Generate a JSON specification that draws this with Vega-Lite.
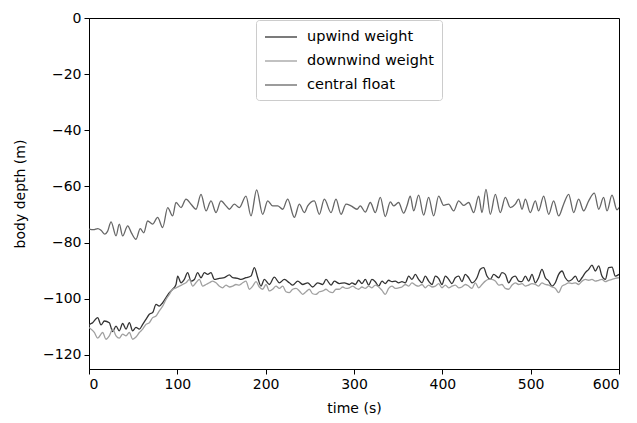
{
  "$schema": "https://vega.github.io/schema/vega-lite/v6.json",
  "width": 530,
  "height": 351,
  "autosize": {"type": "none"},
  "padding": {"left": 89, "top": 18, "right": 18, "bottom": 54},
  "background": "white",
  "config": {
    "view": {"stroke": "black", "strokeWidth": 1},
    "font": "DejaVu Sans",
    "axis": {
      "grid": false, "domainColor": "black", "tickColor": "black", "labelColor": "black", "titleColor": "black",
      "labelFontSize": 14, "titleFontSize": 14, "titleFontWeight": "normal", "tickSize": 5,
      "labelFont": "DejaVu Sans", "titleFont": "DejaVu Sans", "labelPadding": 3, "domainWidth": 1, "tickWidth": 1
    }
  },
  "datasets": {
    "upwind": [
      {"t":0,"d":-110},{"t":0.4,"d":-109.3},{"t":4.1,"d":-108.5},{"t":9.8,"d":-106.7},{"t":13.6,"d":-109.3},{"t":17.4,"d":-107.9},{"t":23,"d":-108.5},{"t":26.8,"d":-111.7},{"t":30.6,"d":-109.7},{"t":34.3,"d":-111.4},{"t":38.1,"d":-108.8},{"t":41.9,"d":-110.8},{"t":45.7,"d":-108.5},{"t":49.4,"d":-111.4},{"t":53.2,"d":-110.2},{"t":57,"d":-110.8},{"t":60.8,"d":-109.1},{"t":64.5,"d":-107.3},{"t":68.3,"d":-105.5},{"t":72.1,"d":-104.9},{"t":75.9,"d":-102.0},{"t":79.6,"d":-102.6},{"t":83.4,"d":-101.4},{"t":87.2,"d":-99.6},{"t":91,"d":-97.8},{"t":94.7,"d":-96.6},{"t":98.5,"d":-94.9},{"t":100.4,"d":-91.9},{"t":104.2,"d":-94.3},{"t":107.9,"d":-93.1},{"t":111.7,"d":-90.7},{"t":115.5,"d":-93.7},{"t":119.3,"d":-93.1},{"t":123,"d":-90.7},{"t":126.8,"d":-92.5},{"t":130.6,"d":-90.7},{"t":134.4,"d":-91.3},{"t":138.1,"d":-90.7},{"t":141.9,"d":-93.1},{"t":147.6,"d":-92.7},{"t":153.2,"d":-92.5},{"t":158.9,"d":-91.5},{"t":162.7,"d":-92.5},{"t":168.3,"d":-92.7},{"t":172.1,"d":-93.1},{"t":177.7,"d":-92.5},{"t":183.4,"d":-91.9},{"t":187.2,"d":-88.9},{"t":191,"d":-92.5},{"t":194.7,"d":-95.5},{"t":198.5,"d":-93.1},{"t":204.2,"d":-94.9},{"t":209.8,"d":-92.3},{"t":215.5,"d":-94.3},{"t":221.2,"d":-93.1},{"t":226.8,"d":-94.3},{"t":230.6,"d":-95.1},{"t":236.3,"d":-93.7},{"t":241.9,"d":-94.9},{"t":247.6,"d":-94.3},{"t":253.2,"d":-95.8},{"t":258.9,"d":-94.3},{"t":264.6,"d":-94.9},{"t":268.3,"d":-93.1},{"t":274,"d":-95.1},{"t":277.8,"d":-93.7},{"t":283.4,"d":-94.6},{"t":289.1,"d":-94.3},{"t":294.8,"d":-94.9},{"t":297.7,"d":-94.3},
      {"t":301.5,"d":-94.9},{"t":305.2,"d":-93.4},{"t":309,"d":-94.6},{"t":312.8,"d":-93.1},{"t":316.6,"d":-95.1},{"t":320.3,"d":-93.1},{"t":324.1,"d":-93.9},{"t":327.9,"d":-95.5},{"t":331.7,"d":-93.7},{"t":335.4,"d":-94.6},{"t":339.2,"d":-93.4},{"t":343,"d":-93.9},{"t":346.8,"d":-93.7},{"t":350.5,"d":-94.3},{"t":354.3,"d":-93.9},{"t":358.1,"d":-94.3},{"t":361.9,"d":-91.9},{"t":365.6,"d":-93.1},{"t":369.4,"d":-91.3},{"t":373.2,"d":-93.1},{"t":377,"d":-94.3},{"t":380.7,"d":-91.9},{"t":384.5,"d":-93.7},{"t":388.3,"d":-94.9},{"t":392.1,"d":-91.9},{"t":395.8,"d":-92.7},{"t":399.6,"d":-94.9},{"t":403.4,"d":-91.9},{"t":407.2,"d":-93.1},{"t":410.9,"d":-94.6},{"t":414.7,"d":-92.5},{"t":418.5,"d":-91.9},{"t":422.2,"d":-93.9},{"t":426,"d":-91.3},{"t":429.8,"d":-92.5},{"t":433.6,"d":-94.3},{"t":439.2,"d":-92.5},{"t":443,"d":-89.5},{"t":446.8,"d":-88.9},{"t":450.5,"d":-91.9},{"t":454.3,"d":-93.1},{"t":458.1,"d":-91.3},{"t":463.8,"d":-92.5},{"t":467.5,"d":-90.7},{"t":471.3,"d":-91.3},{"t":475.1,"d":-94.3},{"t":478.9,"d":-92.5},{"t":482.6,"d":-91.9},{"t":486.4,"d":-93.7},{"t":490.2,"d":-93.9},{"t":494,"d":-91.9},{"t":497.7,"d":-93.7},{"t":501.5,"d":-91.3},{"t":505.3,"d":-94.3},{"t":509,"d":-92.5},{"t":512.8,"d":-89.5},{"t":516.6,"d":-92.5},{"t":520.4,"d":-93.7},{"t":524.1,"d":-95.5},{"t":527.9,"d":-94.3},{"t":531.7,"d":-91.3},{"t":535.5,"d":-90.1},{"t":539.2,"d":-92.5},{"t":543,"d":-93.7},{"t":546.8,"d":-93.1},{"t":550.6,"d":-91.9},{"t":554.3,"d":-93.9},{"t":558.1,"d":-92.5},{"t":561.9,"d":-90.7},{"t":565.7,"d":-89.5},{"t":569.4,"d":-88.0},{"t":573.2,"d":-90.1},{"t":577,"d":-88.3},{"t":580.7,"d":-91.9},{"t":584.5,"d":-93.1},{"t":588.3,"d":-88.9},{"t":592.1,"d":-88.7},{"t":595.8,"d":-91.9},{"t":600,"d":-91.3}
    ],
    "downwind": [
      {"t":0,"d":-110.2},{"t":6,"d":-112.0},{"t":9.8,"d":-114.0},{"t":15.5,"d":-112.0},{"t":19.2,"d":-114.4},{"t":23,"d":-113.2},{"t":26.8,"d":-110.8},{"t":30.6,"d":-113.2},{"t":34.3,"d":-114.0},{"t":38.1,"d":-112.6},{"t":41.9,"d":-113.2},{"t":45.7,"d":-112.0},{"t":49.4,"d":-114.4},{"t":53.2,"d":-113.6},{"t":57,"d":-112.0},{"t":60.8,"d":-110.8},{"t":64.5,"d":-109.1},{"t":68.3,"d":-108.5},{"t":72.1,"d":-106.7},{"t":75.9,"d":-106.1},{"t":79.6,"d":-104.3},{"t":83.4,"d":-102.6},{"t":87.2,"d":-100.2},{"t":91,"d":-98.4},{"t":94.7,"d":-96.6},{"t":98.5,"d":-96.1},{"t":102.3,"d":-95.5},{"t":106,"d":-94.9},{"t":109.8,"d":-94.3},{"t":113.6,"d":-93.1},{"t":117.4,"d":-95.5},{"t":121.1,"d":-94.3},{"t":124.9,"d":-93.1},{"t":128.7,"d":-95.5},{"t":132.5,"d":-94.9},{"t":136.2,"d":-94.3},{"t":140,"d":-93.7},{"t":143.8,"d":-94.3},{"t":147.6,"d":-95.5},{"t":151.3,"d":-96.1},{"t":155.1,"d":-95.1},{"t":158.9,"d":-95.8},{"t":162.7,"d":-95.5},{"t":166.4,"d":-94.9},{"t":170.2,"d":-95.1},{"t":174,"d":-94.3},{"t":177.7,"d":-93.7},{"t":181.5,"d":-96.6},{"t":185.3,"d":-95.5},{"t":189.1,"d":-93.9},{"t":192.8,"d":-95.8},{"t":196.6,"d":-96.6},{"t":200.4,"d":-94.9},{"t":204.2,"d":-97.2},{"t":207.9,"d":-96.6},{"t":211.7,"d":-95.5},{"t":215.5,"d":-96.3},{"t":219.3,"d":-95.5},{"t":223,"d":-97.5},{"t":226.8,"d":-97.8},{"t":230.6,"d":-96.6},{"t":234.4,"d":-96.3},{"t":238.1,"d":-97.2},{"t":241.9,"d":-98.4},{"t":245.7,"d":-97.5},{"t":249.4,"d":-96.6},{"t":253.2,"d":-98.2},{"t":257,"d":-98.4},{"t":260.8,"d":-97.5},{"t":264.6,"d":-97.2},{"t":268.3,"d":-96.6},{"t":272.1,"d":-97.5},{"t":275.9,"d":-97.8},{"t":279.6,"d":-96.6},{"t":283.4,"d":-96.6},{"t":287.2,"d":-95.8},{"t":291,"d":-96.3},{"t":294.8,"d":-96.1},{"t":298.5,"d":-95.5},
      {"t":301.5,"d":-96.1},{"t":305.2,"d":-96.6},{"t":309,"d":-95.8},{"t":312.8,"d":-96.3},{"t":316.6,"d":-95.5},{"t":320.3,"d":-96.1},{"t":324.1,"d":-95.1},{"t":327.9,"d":-95.8},{"t":331.7,"d":-97.0},{"t":335.4,"d":-98.4},{"t":339.2,"d":-96.3},{"t":343,"d":-95.5},{"t":346.8,"d":-96.3},{"t":350.5,"d":-96.1},{"t":354.3,"d":-95.8},{"t":358.1,"d":-94.9},{"t":361.9,"d":-95.5},{"t":365.6,"d":-94.3},{"t":369.4,"d":-95.1},{"t":373.2,"d":-95.5},{"t":377,"d":-94.9},{"t":380.7,"d":-96.1},{"t":384.5,"d":-95.1},{"t":388.3,"d":-95.8},{"t":392.1,"d":-95.5},{"t":395.8,"d":-94.6},{"t":399.6,"d":-96.1},{"t":403.4,"d":-95.1},{"t":407.2,"d":-96.1},{"t":410.9,"d":-95.5},{"t":414.7,"d":-95.1},{"t":418.5,"d":-96.1},{"t":422.2,"d":-95.8},{"t":426,"d":-94.9},{"t":429.8,"d":-95.5},{"t":433.6,"d":-96.3},{"t":437.3,"d":-94.3},{"t":441.1,"d":-96.1},{"t":444.9,"d":-94.9},{"t":448.7,"d":-93.7},{"t":452.4,"d":-93.1},{"t":456.2,"d":-93.1},{"t":460,"d":-93.7},{"t":463.8,"d":-95.1},{"t":467.5,"d":-94.9},{"t":471.3,"d":-96.3},{"t":475.1,"d":-96.6},{"t":478.9,"d":-95.1},{"t":482.6,"d":-94.3},{"t":486.4,"d":-94.9},{"t":490.2,"d":-94.6},{"t":494,"d":-95.5},{"t":497.7,"d":-95.1},{"t":501.5,"d":-94.6},{"t":505.3,"d":-94.9},{"t":509,"d":-95.5},{"t":512.8,"d":-94.3},{"t":516.6,"d":-94.9},{"t":520.4,"d":-95.1},{"t":524.1,"d":-95.8},{"t":527.9,"d":-96.3},{"t":531.7,"d":-97.8},{"t":535.5,"d":-95.5},{"t":539.2,"d":-94.9},{"t":543,"d":-94.3},{"t":546.8,"d":-94.6},{"t":550.6,"d":-94.3},{"t":554.3,"d":-94.9},{"t":558.1,"d":-93.7},{"t":561.9,"d":-93.1},{"t":565.7,"d":-93.4},{"t":569.4,"d":-93.1},{"t":573.2,"d":-93.7},{"t":577,"d":-93.4},{"t":580.7,"d":-93.1},{"t":584.5,"d":-93.9},{"t":588.3,"d":-93.4},{"t":592.1,"d":-93.1},{"t":595.8,"d":-92.7},{"t":600,"d":-92.5}
    ],
    "central": [
      {"t":0,"d":-75.2},{"t":5,"d":-75.4},{"t":10,"d":-75.0},{"t":13.6,"d":-75.6},{"t":18,"d":-77.0},{"t":21,"d":-76.0},{"t":25,"d":-72.6},{"t":30.6,"d":-77.6},{"t":34.3,"d":-73.4},{"t":38.1,"d":-77.6},{"t":43.8,"d":-74.0},{"t":48,"d":-76.5},{"t":53.2,"d":-78.8},{"t":58,"d":-75.0},{"t":62,"d":-76.5},{"t":66.4,"d":-72.3},{"t":72,"d":-73.4},{"t":77.7,"d":-71.0},{"t":83.4,"d":-74.6},{"t":89.1,"d":-67.5},{"t":94.7,"d":-70.5},{"t":98.5,"d":-65.7},{"t":104.2,"d":-67.5},{"t":109.8,"d":-64.5},{"t":115.5,"d":-66.3},{"t":121.1,"d":-68.1},{"t":126.8,"d":-62.8},{"t":132.5,"d":-68.7},{"t":138.1,"d":-65.1},{"t":143.8,"d":-69.3},{"t":149.4,"d":-65.1},{"t":155.1,"d":-66.9},{"t":158.9,"d":-68.1},{"t":164.5,"d":-66.3},{"t":170.2,"d":-67.5},{"t":177.7,"d":-63.4},{"t":183.4,"d":-70.5},{"t":189.8,"d":-61.2},{"t":196.6,"d":-69.9},{"t":202.3,"d":-65.1},{"t":207.9,"d":-66.9},{"t":213.6,"d":-66.9},{"t":219.3,"d":-68.1},{"t":224.9,"d":-64.5},{"t":232.5,"d":-71.0},{"t":238.1,"d":-66.3},{"t":243.8,"d":-69.3},{"t":247.6,"d":-66.9},{"t":255.1,"d":-65.1},{"t":260.8,"d":-69.9},{"t":266.4,"d":-64.5},{"t":274,"d":-69.3},{"t":279.6,"d":-64.5},{"t":285.3,"d":-69.9},{"t":291,"d":-66.3},{"t":296.6,"d":-66.9},
      {"t":303.4,"d":-68.1},{"t":307.1,"d":-66.9},{"t":312.8,"d":-69.1},{"t":318.5,"d":-65.7},{"t":324.1,"d":-69.3},{"t":329.8,"d":-63.9},{"t":335.4,"d":-70.7},{"t":341.1,"d":-65.5},{"t":344.9,"d":-66.9},{"t":350.5,"d":-65.7},{"t":356.2,"d":-69.5},{"t":360,"d":-66.9},{"t":363.7,"d":-63.4},{"t":367.5,"d":-68.7},{"t":373.2,"d":-63.1},{"t":378.8,"d":-70.2},{"t":384.5,"d":-63.9},{"t":390.2,"d":-70.5},{"t":395.8,"d":-63.4},{"t":401.5,"d":-66.7},{"t":407.1,"d":-66.3},{"t":412.8,"d":-68.7},{"t":418.5,"d":-65.1},{"t":424.1,"d":-66.7},{"t":429.8,"d":-65.7},{"t":435.5,"d":-69.3},{"t":441.1,"d":-63.4},{"t":444.9,"d":-69.3},{"t":449.4,"d":-61.0},{"t":454.3,"d":-69.9},{"t":460,"d":-62.8},{"t":465.6,"d":-69.3},{"t":471.3,"d":-63.9},{"t":477,"d":-67.5},{"t":482.6,"d":-66.3},{"t":486.4,"d":-64.5},{"t":490.2,"d":-68.1},{"t":494,"d":-64.5},{"t":499.6,"d":-69.3},{"t":505.3,"d":-65.1},{"t":509,"d":-68.7},{"t":514.7,"d":-63.4},{"t":520.4,"d":-69.9},{"t":526,"d":-65.1},{"t":531.7,"d":-70.5},{"t":537.3,"d":-66.3},{"t":543,"d":-62.8},{"t":548.7,"d":-69.3},{"t":554.3,"d":-64.5},{"t":560,"d":-68.7},{"t":565.7,"d":-65.1},{"t":572.1,"d":-62.4},{"t":577,"d":-68.1},{"t":582.6,"d":-63.9},{"t":586.4,"d":-68.7},{"t":592.1,"d":-63.1},{"t":597.7,"d":-68.3},{"t":600,"d":-67.5}
    ]
  },
  "encoding": {
    "x": {"field": "t", "type": "quantitative", "scale": {"domain": [0, 600], "nice": false, "zero": false},
      "axis": {"values": [0, 100, 200, 300, 400, 500, 600], "title": "time (s)", "titlePadding": 10}},
    "y": {"field": "d", "type": "quantitative", "scale": {"domain": [-125, 0], "nice": false, "zero": false},
      "axis": {"values": [0, -20, -40, -60, -80, -100, -120], "title": "body depth (m)", "titlePadding": 15}}
  },
  "layer": [
    {"data": {"name": "upwind"}, "mark": {"type": "line", "strokeWidth": 1.3, "clip": true, "interpolate": "monotone"},
      "encoding": {"color": {"datum": "upwind weight", "type": "nominal",
        "scale": {"domain": ["upwind weight", "downwind weight", "central float"], "range": ["#333333", "#a0a0a0", "#666666"]},
        "legend": {"orient": "none", "legendX": 167, "legendY": 2, "title": null, "symbolType": "M-2,0H2", "symbolSize": 256, "symbolOffset": 8,
          "symbolStrokeWidth": 1.3, "labelFontSize": 14.5, "labelFont": "DejaVu Sans", "labelColor": "black", "labelOffset": 17,
          "padding": 8, "rowPadding": 8, "strokeColor": "#cccccc", "fillColor": "white", "cornerRadius": 3}}}},
    {"data": {"name": "downwind"}, "mark": {"type": "line", "strokeWidth": 1.3, "clip": true, "interpolate": "monotone"},
      "encoding": {"color": {"datum": "downwind weight", "type": "nominal"}}},
    {"data": {"name": "central"}, "mark": {"type": "line", "strokeWidth": 1.3, "clip": true, "interpolate": "monotone"},
      "encoding": {"color": {"datum": "central float", "type": "nominal"}}}
  ]
}
